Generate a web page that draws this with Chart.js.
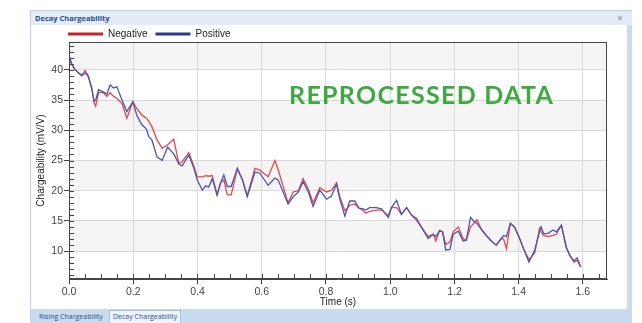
<!DOCTYPE html>
<html>
<head>
<meta charset="utf-8">
<script src="https://cdn.jsdelivr.net/npm/chart.js@4"></script>
<style>
  body { margin: 0; width: 642px; height: 323px; background: #fff; position: relative; overflow: hidden; }
  .frame { position: absolute; left: 30px; top: 10px; width: 602px; height: 313px; box-sizing: border-box;
           border-left: 1px solid #bfd0e4; border-top: 1px solid #bfd0e4; background: #fff; }
  .titlebar { position: absolute; left: 31px; top: 11px; width: 601px; height: 14px; background: #e3ebf6; }
  .titlebar .caption { position: absolute; left: 4px; top: 2px; font: bold 7.5px "Open Sans", sans-serif; color: #1f4f8f; }
  .titlebar .close { position: absolute; left: 586px; top: 0px; font: 10px "Open Sans", sans-serif; color: #8494aa; }
  .edge { position: absolute; left: 627px; top: 25px; width: 5px; height: 298px; background: #c9dbef; }
  .tabs { position: absolute; left: 31px; top: 309px; width: 596px; height: 14px; background: #c9dbef; }
  .tab { position: absolute; top: 2px; height: 12px; font: 7px "Open Sans", sans-serif; color: #1f4f8f; line-height: 12px; }
  .tab.active { background: #eef4fb; border: 1px solid #a9c0dc; border-bottom: none; padding: 0 3px; top: 1px; }
  #chart { position: absolute; left: 31px; top: 21px; }
  .stamp { position: absolute; left: 289px; top: 79px; font: bold 25px Lato, sans-serif; letter-spacing: 1.3px;
           color: #3ea93e; white-space: nowrap; }
</style>
</head>
<body>
<div class="frame"></div>
<div class="titlebar"><span class="caption">Decay Chargeability</span><span class="close">×</span></div>
<div class="edge"></div>
<div class="tabs">
  <span class="tab" style="left:8px">Rising Chargeability</span>
  <span class="tab active" style="left:78px">Decay Chargeability</span>
</div>
<canvas id="chart" width="596" height="288"></canvas>
<div class="stamp">REPROCESSED DATA</div>

<script>
// Decay chargeability curves (mV/V) against time (s)
const times = [
  0.000, 0.008, 0.016, 0.029, 0.040, 0.050, 0.060, 0.071, 0.078, 0.083,
  0.092, 0.105, 0.118, 0.128, 0.139, 0.149, 0.165, 0.180, 0.199, 0.211,
  0.227, 0.241, 0.248, 0.258, 0.274, 0.290, 0.307, 0.326, 0.342, 0.352,
  0.373, 0.389, 0.399, 0.415, 0.425, 0.435, 0.446, 0.461, 0.472, 0.482,
  0.493, 0.505, 0.524, 0.540, 0.555, 0.579, 0.594, 0.620, 0.641, 0.651,
  0.682, 0.698, 0.714, 0.729, 0.745, 0.760, 0.781, 0.802, 0.817, 0.833,
  0.843, 0.859, 0.874, 0.890, 0.903, 0.916, 0.924, 0.936, 0.957, 0.973,
  0.994, 1.004, 1.020, 1.035, 1.051, 1.066, 1.082, 1.097, 1.118, 1.134,
  1.142, 1.154, 1.163, 1.173, 1.186, 1.196, 1.212, 1.227, 1.237, 1.250,
  1.260, 1.270, 1.284, 1.299, 1.315, 1.330, 1.346, 1.353, 1.362, 1.374,
  1.387, 1.403, 1.416, 1.432, 1.450, 1.465, 1.470, 1.478, 1.491, 1.507,
  1.517, 1.533, 1.548, 1.559, 1.572, 1.582, 1.593
];

const negative = [
  42.2, 41.0, 40.3, 39.5, 39.1, 39.9, 39.0, 37.0, 34.6, 34.0,
  36.2, 36.3, 35.6, 36.2, 35.6, 35.3, 34.4, 32.0, 34.7, 33.6,
  32.5, 32.0, 31.5, 30.6, 28.4, 27.0, 27.6, 28.5, 24.5, 24.8,
  26.3, 24.0, 22.3, 22.3, 22.5, 22.4, 22.5, 19.3, 21.3, 21.8,
  19.3, 19.3, 23.6, 21.8, 19.2, 23.7, 23.4, 22.3, 25.0, 23.5,
  18.0, 19.8, 20.0, 22.0, 20.3, 18.0, 20.5, 19.8, 20.1, 21.3,
  19.0, 16.7, 17.6, 17.8, 17.1, 16.7, 16.3, 16.6, 16.8, 16.8,
  15.9, 17.2, 17.2, 16.1, 17.2, 16.0, 15.1, 14.0, 12.4, 12.8,
  11.7, 13.4, 13.2, 11.1, 11.5, 13.2, 14.0, 12.1, 11.8, 14.0,
  14.6, 15.2, 13.6, 12.6, 11.7, 11.0, 12.1, 12.0, 10.4, 14.6,
  14.0, 12.1, 10.3, 8.6, 9.7, 13.8, 13.2, 12.6, 12.4, 12.6,
  12.8, 14.3, 10.7, 9.3, 8.2, 8.5, 7.4
];

const positive = [
  42.5, 41.0, 40.2, 39.5, 39.0, 39.5, 38.9, 36.8, 34.8, 35.0,
  36.7, 36.4, 36.0, 37.5, 37.0, 37.2, 35.0, 33.1, 34.7, 32.5,
  30.9, 30.2, 29.0, 28.4, 25.6, 25.0, 27.2, 26.1, 24.4, 24.1,
  25.9, 23.7, 21.8, 20.1, 20.8, 20.6, 22.0, 19.3, 21.3, 22.6,
  20.7, 20.7, 23.7, 21.8, 19.0, 23.1, 22.9, 20.9, 22.1, 21.8,
  17.8, 19.0, 19.8, 21.5, 19.8, 17.4, 20.1, 18.6, 19.1, 21.1,
  18.6, 15.8, 18.3, 18.3, 17.1, 17.0, 16.8, 17.2, 17.2, 17.0,
  15.6, 17.2, 18.4, 16.1, 17.2, 16.0, 15.4, 14.0, 12.1, 12.8,
  12.4, 13.4, 13.2, 10.2, 10.3, 12.8, 13.3, 11.7, 11.8, 15.6,
  15.0, 14.6, 13.6, 12.6, 11.7, 11.0, 12.1, 12.6, 12.4, 14.6,
  14.0, 12.1, 10.3, 8.2, 10.2, 13.2, 14.0, 12.9, 12.9, 13.5,
  13.2, 14.3, 10.7, 9.3, 8.4, 8.9, 7.4
];

const seriesNames = ['Negative', 'Positive'];
const xTickValues = [0, 0.2, 0.4, 0.6, 0.8, 1.0, 1.2, 1.4, 1.6];
const yTickValues = [10, 15, 20, 25, 30, 35, 40];

// Axis ranges and minor tick spacing
const X_MIN = 0, X_MAX = 1.675, X_MINOR = 0.05;
const Y_MIN = 5.4, Y_MAX = 44.6, Y_MINOR = 1;
const MINOR_LEN = 5;

const lineColors = ['#e5474c', '#4956b3'];
const legendColors = ['#c6242c', '#283d8e'];

Chart.defaults.font.family = '"Liberation Sans", Arial, sans-serif';
Chart.defaults.font.size = 10;
Chart.defaults.color = '#444';

// Grey bands every other 5 units, inner minor ticks and a dark frame round the plot
const plotDecor = {
    id: 'plotDecor',
    beforeDraw(chart) {
        const { ctx, chartArea: a, scales: { y } } = chart;
        ctx.save();
        ctx.fillStyle = '#f5f5f5';
        yTickValues.filter(v => v % 10 === 0).forEach(v => {
            const top = y.getPixelForValue(Math.min(v + 5, Y_MAX));
            const bottom = y.getPixelForValue(v);
            ctx.fillRect(a.left, top, a.width, bottom - top);
        });
        ctx.restore();
    },
    afterDraw(chart) {
        const { ctx, chartArea: a, scales: { x, y } } = chart;
        ctx.save();
        ctx.strokeStyle = '#454545';
        ctx.lineWidth = 1;
        ctx.beginPath();
        for (let i = Math.ceil(X_MIN / X_MINOR); i * X_MINOR <= X_MAX + 1e-9; i++) {
            const px = Math.round(x.getPixelForValue(i * X_MINOR)) + 0.5;
            ctx.moveTo(px, a.bottom);
            ctx.lineTo(px, a.bottom - MINOR_LEN);
        }
        for (let i = Math.ceil(Y_MIN / Y_MINOR); i * Y_MINOR <= Y_MAX + 1e-9; i++) {
            const py = Math.round(y.getPixelForValue(i * Y_MINOR)) + 0.5;
            ctx.moveTo(a.left, py);
            ctx.lineTo(a.left + MINOR_LEN, py);
        }
        ctx.stroke();
        ctx.strokeRect(Math.round(a.left) + 0.5, Math.round(a.top) + 0.5,
            Math.round(a.width) - 1, Math.round(a.height) - 1);
        ctx.restore();
    }
};

// Legend starts just left of the plot's left edge
const legendOffset = {
    id: 'legendOffset',
    afterLayout(chart) {
        chart.legend.left -= 9;
        chart.legend.right -= 9;
    }
};

const ctx = document.getElementById('chart').getContext('2d');
const chart = new Chart(ctx, {
    type: 'line',
    data: {
        datasets: [negative, positive].map((values, i) => ({
            label: seriesNames[i],
            data: times.map((t, j) => ({ x: t, y: values[j] })),
            borderColor: lineColors[i],
            backgroundColor: legendColors[i],
            borderWidth: 1.3,
            pointRadius: 0,
            tension: 0,
            order: 1 - i
        }))
    },
    options: {
        responsive: false,
        animation: false,
        layout: { padding: { left: 0, right: 20, top: 0, bottom: 0 } },
        plugins: {
            tooltip: { enabled: false },
            legend: {
                position: 'top',
                align: 'start',
                fullSize: false,
                maxHeight: 21,
                labels: {
                    boxWidth: 35,
                    boxHeight: 3,
                    padding: 8,
                    color: '#222',
                    font: { size: 10 },
                    sort: (a, b) => a.datasetIndex - b.datasetIndex,
                    generateLabels(chart) {
                        return Chart.defaults.plugins.legend.labels.generateLabels(chart).map(item => ({
                            ...item,
                            fillStyle: legendColors[item.datasetIndex],
                            strokeStyle: legendColors[item.datasetIndex],
                            lineWidth: 0
                        }));
                    }
                }
            }
        },
        scales: {
            x: {
                type: 'linear',
                min: X_MIN,
                max: X_MAX,
                afterBuildTicks: scale => { scale.ticks = xTickValues.map(v => ({ value: v })); },
                afterFit: scale => { scale.height = 30; },
                ticks: {
                    autoSkip: false,
                    maxRotation: 0,
                    padding: 2,
                    font: { size: 10.5 },
                    callback: v => Number(v).toFixed(1)
                },
                grid: { color: '#d8d8d8', tickColor: '#444', tickLength: 5 },
                border: { color: '#454545' },
                title: { display: true, text: 'Time (s)', color: '#222', font: { size: 10 }, padding: { top: 0, bottom: 1 } }
            },
            y: {
                type: 'linear',
                min: Y_MIN,
                max: Y_MAX,
                afterBuildTicks: scale => { scale.ticks = yTickValues.map(v => ({ value: v })); },
                afterFit: scale => { scale.width = 38; },
                ticks: { autoSkip: false, padding: 1, font: { size: 10.5 } },
                grid: { color: '#d8d8d8', tickColor: '#444', tickLength: 5 },
                border: { color: '#454545' },
                title: { display: true, text: 'Chargeability (mV/V)', color: '#222', font: { size: 10 }, padding: { top: 4, bottom: 0 } }
            }
        }
    },
    plugins: [plotDecor, legendOffset]
});
</script>
</body>
</html>
